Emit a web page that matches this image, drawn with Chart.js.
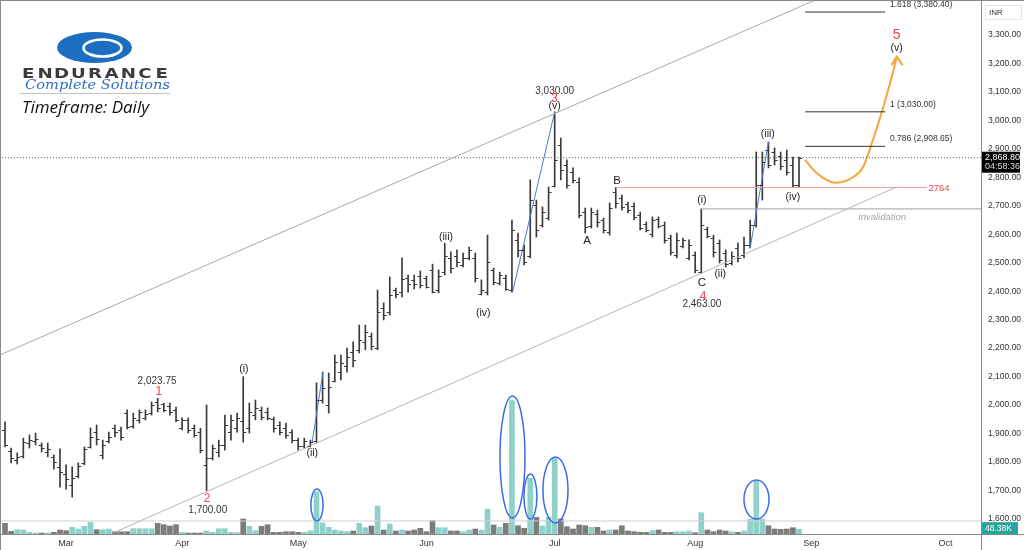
<!DOCTYPE html>
<html>
<head>
<meta charset="utf-8">
<script src="https://cdn.jsdelivr.net/npm/chart.js@4.4.1/dist/chart.umd.min.js"></script>
<style>
  html, body { margin: 0; padding: 0; background: #fff; overflow: hidden; }
  canvas { display: block; }
</style>
</head>
<body>
<canvas id="chart" width="1024" height="550"></canvas>
<script>
// Endurance Technologies, daily bars
const months = ['Mar', 'Apr', 'May', 'Jun', 'Jul', 'Aug', 'Sep', 'Oct'];
const monthStart = [10, 29, 48, 69, 90, 113, 132, 154]; // bar index of first session
const priceTicks = [1600, 1700, 1800, 1900, 2000, 2100, 2200, 2300, 2400, 2500,
                    2600, 2700, 2800, 2900, 3000, 3100, 3200, 3300];

const opens = [1913,1839,1807,1821,1867,1874,1860,1835,1818,1782,
  1758,1719,1751,1797,1853,1906,1825,1874,1919,1912,
  1972,1926,1948,1955,1972,2011,2004,1997,1983,1919,
  1948,1919,1906,1790,1814,1835,1860,1905,1919,1944,
  1919,1965,1983,1976,1951,1930,1919,1905,1877,1856,
  1856,1874,2018,2000,2085,2116,2137,2186,2193,2222,
  2243,2201,2341,2327,2404,2397,2446,2440,2453,2446,
  2475,2404,2467,2517,2524,2492,2517,2517,2390,2397,
  2475,2429,2446,2404,2580,2545,2524,2703,2633,2657,
  2769,2913,2843,2819,2784,2678,2629,2671,2650,2608,
  2748,2727,2706,2699,2668,2636,2601,2653,2633,2587,
  2527,2559,2517,2527,2467,2618,2587,2569,2534,2499,
  2552,2527,2562,2633,2773,2896,2889,2875,2861,2843,
  2773];
const highs = [1941,1849,1832,1884,1895,1902,1867,1867,1825,1846,
  1790,1783,1797,1853,1920,1930,1877,1905,1930,1923,
  1983,1972,1983,1983,2011,2023.75,2007,2007,1993,1955,
  1955,1930,1919,2000,1860,1877,1965,1965,1972,2100,
  2007,2018,1993,1990,1958,1941,1937,1913,1884,1884,
  1877,2078,2116,2113,2176,2176,2200,2222,2281,2281,
  2253,2404,2359,2450,2411,2517,2457,2457,2471,2453,
  2495,2475,2569,2538,2545,2534,2555,2534,2440,2597,
  2481,2467,2457,2650,2604,2562,2791,2720,2696,2766,
  3030,2938,2861,2833,2798,2692,2692,2685,2657,2710,
  2764,2738,2713,2710,2678,2643,2661,2661,2643,2597,
  2604,2587,2580,2538,2689,2625,2597,2580,2545,2538,
  2569,2590,2650,2889,2889,2924,2903,2889,2896,2871,
  2871];
const lows = [1853,1797,1793,1814,1849,1860,1835,1818,1775,1712,
  1705,1677,1744,1790,1849,1860,1811,1867,1888,1877,
  1916,1919,1937,1948,1965,1976,1976,1965,1941,1913,
  1902,1888,1832,1700,1807,1818,1842,1877,1905,1870,
  1902,1948,1948,1948,1905,1895,1884,1867,1842,1849,
  1853,1867,2007,1972,2081,2088,2116,2134,2183,2194,
  2194,2194,2299,2316,2376,2380,2397,2408,2411,2411,
  2394,2394,2457,2464,2485,2485,2510,2432,2387,2387,
  2422,2422,2404,2397,2520,2492,2517,2590,2625,2650,
  2766,2791,2762,2780,2657,2604,2622,2625,2604,2597,
  2692,2685,2675,2650,2615,2608,2590,2622,2569,2527,
  2517,2552,2510,2464,2463,2587,2520,2499,2485,2492,
  2503,2517,2552,2625,2720,2833,2843,2826,2808,2764,
  2764];
const closes = [1860,1814,1818,1870,1877,1881,1849,1846,1800,1765,
  1740,1744,1786,1846,1888,1881,1860,1888,1905,1888,
  1923,1955,1976,1969,2000,1990,1983,1976,1948,1948,
  1913,1895,1842,1814,1849,1860,1930,1948,1955,1905,
  1976,1990,1958,1955,1919,1905,1895,1877,1856,1874,
  1870,2018,2060,2064,2151,2148,2169,2158,2229,2257,
  2208,2327,2316,2387,2390,2443,2425,2425,2422,2415,
  2397,2453,2524,2481,2503,2517,2545,2446,2404,2503,
  2432,2457,2408,2615,2545,2503,2720,2615,2678,2748,
  2861,2826,2773,2791,2668,2625,2678,2643,2615,2692,
  2710,2696,2685,2661,2622,2615,2650,2629,2580,2538,
  2580,2580,2562,2475,2633,2594,2538,2510,2495,2524,
  2517,2562,2633,2773,2854,2843,2861,2840,2819,2773,
  2868.8];
// volume, thousands of shares
const volumes = [107,27,43,40,17,10,10,10,17,40,
  33,67,50,77,117,43,43,50,23,23,
  23,53,53,53,53,107,93,80,93,17,
  10,10,10,30,17,53,53,17,13,150,
  77,33,77,93,17,17,23,23,17,17,
  33,423,110,67,40,30,23,30,107,63,
  80,280,40,100,30,40,30,40,57,23,
  133,63,63,30,30,23,40,50,40,247,
  90,67,107,1333,83,57,557,167,80,167,
  757,150,73,50,90,83,67,67,30,40,
  40,83,30,23,17,17,33,40,17,17,
  23,23,30,13,213,40,23,40,30,23,
  17,30,147,533,147,83,50,47,50,63,
  48.38];

// fibonacci projection
const fibRatios = ['1.618', '1', '0.786'];
const fibPrices = [3380.40, 3030.00, 2908.65];

// wave labels: text, bar index, price, kind
const waveLabels = [
  ['2,023.75', 24.9, 2085, 'price'], ['1', 25.2, 2046, 'red'],
  ['2', 33.1, 1670, 'red'], ['1,700.00', 33.2, 1632, 'price'],
  ['(i)', 39.1, 2127, 'wave'], ['(ii)', 50.3, 1832, 'wave'],
  ['(iii)', 72.2, 2590, 'wave'], ['(iv)', 78.3, 2323, 'wave'],
  ['3,030.00', 90, 3103, 'price'], ['3', 90, 3075, 'red'], ['(v)', 90, 3050, 'wave'],
  ['A', 95.3, 2576, 'abc'], ['B', 100.2, 2787, 'abc'],
  ['(i)', 114.1, 2720, 'wave'], ['C', 114.1, 2429, 'abc'], ['4', 114.3, 2380, 'red'],
  ['2,463.00', 114.1, 2355, 'price'], ['(ii)', 117.1, 2460, 'wave'],
  ['(iii)', 124.9, 2952, 'wave'], ['(iv)', 129.0, 2731, 'wave'],
  ['5', 146.0, 3300, 'red5'], ['(v)', 146.0, 3254, 'wave']
];

// drawn lines (bar index, price)
const upperChannel = [{x: -0.82, y: 2176}, {x: 159.8, y: 3676}];
const lowerChannel = [{x: 17.7, y: 1551}, {x: 146.0, y: 2766}];
const impulseLegs = [
  [{x: 50.3, y: 1870}, {x: 52.06, y: 2116}],
  [{x: 83.1, y: 2397}, {x: 90, y: 3030}],
  [{x: 122, y: 2552}, {x: 125, y: 2924}]
];
const projection = [{x: 131.0, y: 2861}, {x: 132.9, y: 2815}, {x: 135.9, y: 2781},
  {x: 138.3, y: 2794}, {x: 140.5, y: 2836}, {x: 142.1, y: 2931}, {x: 143.8, y: 3047},
  {x: 145.2, y: 3153}, {x: 146.0, y: 3222}];
const volRings = [[51.08, 290, 1.0, 160], [83.09, 770, 2.05, 610], [86.03, 375, 1.06, 225],
  [90.13, 440, 2.05, 330], [123.04, 345, 2.05, 195]];

const F = '"Liberation Sans", Arial, sans-serif';
const BAR = '#3a3a3a';
const lastClose = closes[closes.length - 1];

const fmt = v => v.toLocaleString('en-US', {minimumFractionDigits: 2, maximumFractionDigits: 2});

function seg(points, color, extra) {
  return Object.assign({
    type: 'line', data: points, yAxisID: 'y', borderColor: color, borderWidth: 1,
    pointRadius: 0, fill: false, order: 0
  }, extra || {});
}

const datasets = [
  {
    type: 'bar', label: 'OHLC', yAxisID: 'y', order: 1,
    data: highs.map((h, i) => ({x: i, y: [lows[i], h]})),
    backgroundColor: BAR, barThickness: 1, grouped: false
  },
  {
    type: 'bar', label: 'Volume', yAxisID: 'yv', order: 2,
    data: volumes.map((v, i) => ({x: i, y: v})),
    backgroundColor: volumes.map((v, i) => closes[i] >= opens[i] ? '#8fd1c8' : '#7c7c7c'),
    barThickness: 5, grouped: false
  },
  seg(upperChannel, '#a8a8a8'),
  seg(lowerChannel, '#b4b4b4'),
  seg([{x: 100, y: 2764}, {x: 150.9, y: 2764}], '#f39aa0'),
  seg([{x: 114, y: 2689}, {x: 160, y: 2689}], '#a0a0a0'),
  seg([{x: -1, y: lastClose}, {x: 160, y: lastClose}], '#555', {borderDash: [1, 2]}),
  seg([{x: -1, y: 1593}, {x: 160, y: 1593}], '#cfcfcf'),
  ...fibPrices.map(p => seg([{x: 131.0, y: p}, {x: 144.1, y: p}], '#333')),
  ...impulseLegs.map(l => seg(l, '#4a78dc')),
  seg(projection, '#f6a53a', {borderWidth: 2, tension: 0.4, cubicInterpolationMode: 'monotone'})
];

const drawings = {
  id: 'drawings',
  afterDatasetsDraw(chart) {
    const {ctx, scales: {x, y, yv}} = chart;
    const X = v => x.getPixelForValue(v);
    const Y = v => y.getPixelForValue(v);
    ctx.save();
    ctx.beginPath();
    ctx.rect(0, 0, chart.chartArea.right, chart.chartArea.bottom);
    ctx.clip();

    // open / close ticks
    ctx.strokeStyle = BAR;
    ctx.lineWidth = 1;
    ctx.beginPath();
    for (let i = 0; i < opens.length; i++) {
      const px = X(i);
      const yo = Math.round(Y(opens[i])) + 0.5, yc = Math.round(Y(closes[i])) + 0.5;
      ctx.moveTo(px - 3, yo); ctx.lineTo(px, yo);
      ctx.moveTo(px, yc); ctx.lineTo(px + 3, yc);
    }
    ctx.stroke();

    // rings round the volume spikes
    ctx.strokeStyle = '#3b6be6';
    ctx.lineWidth = 1.5;
    volRings.forEach(([ci, cv, hw, hh]) => {
      ctx.beginPath();
      ctx.ellipse(X(ci), yv.getPixelForValue(cv), X(ci + hw) - X(ci),
        yv.getPixelForValue(cv - hh) - yv.getPixelForValue(cv), 0, 0, Math.PI * 2);
      ctx.stroke();
    });

    // arrow head of the projection
    ctx.strokeStyle = '#f6a53a';
    ctx.lineWidth = 2;
    ctx.beginPath();
    ctx.moveTo(X(145.17), Y(3194)); ctx.lineTo(X(146.0), Y(3224)); ctx.lineTo(X(146.97), Y(3194));
    ctx.stroke();

    // wave labels
    ctx.textAlign = 'center';
    ctx.textBaseline = 'middle';
    const styles = {
      price: ['10px ' + F, '#333'], red: ['12px ' + F, '#f0454f'], red5: ['14px ' + F, '#f0454f'],
      wave: ['10.5px ' + F, '#222'], abc: ['11.5px ' + F, '#222']
    };
    waveLabels.forEach(([t, i, p, k]) => {
      ctx.font = styles[k][0];
      ctx.fillStyle = styles[k][1];
      ctx.fillText(t, X(i), Y(p));
    });

    // fib level labels
    ctx.textAlign = 'left';
    ctx.textBaseline = 'bottom';
    ctx.font = '8.5px ' + F;
    ctx.fillStyle = '#333';
    fibPrices.forEach((p, k) => {
      ctx.fillText(fibRatios[k] + ' (' + fmt(p) + ')', X(144.9), Y(p) - 3);
    });

    ctx.textBaseline = 'middle';
    ctx.font = '9.5px ' + F;
    ctx.fillStyle = '#f0454f';
    ctx.fillText('2764', X(151.2), Y(2764) + 1);
    ctx.textAlign = 'center';
    ctx.font = 'italic 9.5px ' + F;
    ctx.fillStyle = '#a5a5a5';
    ctx.fillText('Invalidation', X(143.6), Y(2689) + 8);
    ctx.restore();
  },
  afterDraw(chart) {
    const {ctx, chartArea: a, scales: {y, yv}} = chart;
    ctx.save();
    // frame and pane separators
    ctx.strokeStyle = '#8a8a8a';
    ctx.lineWidth = 1;
    ctx.beginPath();
    ctx.moveTo(0, 0.5); ctx.lineTo(1024, 0.5);
    ctx.moveTo(0.5, 0); ctx.lineTo(0.5, 550);
    ctx.moveTo(0, a.bottom + 0.5); ctx.lineTo(1024, a.bottom + 0.5);
    ctx.moveTo(a.right + 0.5, 0); ctx.lineTo(a.right + 0.5, 550);
    ctx.stroke();

    // currency tag
    ctx.strokeStyle = '#e2e2e2';
    ctx.strokeRect(985.5, 5.5, 36, 14);
    ctx.fillStyle = '#333';
    ctx.font = '8px ' + F;
    ctx.textAlign = 'left';
    ctx.textBaseline = 'middle';
    ctx.fillText('INR', 989, 12.5);

    // last price tag
    const py = y.getPixelForValue(lastClose);
    ctx.fillStyle = '#000';
    ctx.fillRect(a.right + 1, py - 6, 38, 21);
    ctx.fillStyle = '#fff';
    ctx.font = '9px ' + F;
    ctx.fillText(fmt(lastClose), a.right + 4, py - 0.5);
    ctx.fillStyle = '#ddd';
    ctx.fillText('04:58:36', a.right + 4, py + 9);

    // last volume tag
    const vy = yv.getPixelForValue(volumes[volumes.length - 1]);
    ctx.fillStyle = '#26a69a';
    ctx.fillRect(a.right + 1, vy - 7, 36, 12);
    ctx.fillStyle = '#fff';
    ctx.font = '8.5px ' + F;
    ctx.fillText(volumes[volumes.length - 1].toFixed(2) + 'K', a.right + 4, vy - 0.5);

    // logo
    ctx.fillStyle = '#1b6ec2';
    ctx.beginPath();
    ctx.ellipse(94.5, 47.5, 37.5, 15.5, 0, 0, Math.PI * 2);
    ctx.fill();
    ctx.strokeStyle = '#fff';
    ctx.lineWidth = 2.5;
    ctx.beginPath();
    ctx.ellipse(102.5, 48, 19, 8.5, 0, 0, Math.PI * 2);
    ctx.stroke();

    ctx.fillStyle = '#3b3b3b';
    ctx.font = 'bold 14px "DejaVu Sans", sans-serif';
    ctx.textAlign = 'center';
    ctx.textBaseline = 'alphabetic';
    const word = 'ENDURANCE', step = 150 / word.length;
    for (let k = 0; k < word.length; k++) {
      ctx.save();
      ctx.translate(20 + step * (k + 0.5), 77.5);
      ctx.scale(1.3, 1);
      ctx.fillText(word[k], 0, 0);
      ctx.restore();
    }
    ctx.fillStyle = '#2f6dc0';
    ctx.font = 'italic 13px "DejaVu Serif", serif';
    ctx.textAlign = 'left';
    const sub = 'Complete Solutions';
    const sw = ctx.measureText(sub).width;
    ctx.save();
    ctx.translate(25, 89);
    ctx.scale(145 / sw, 1);
    ctx.fillText(sub, 0, 0);
    ctx.restore();
    ctx.strokeStyle = '#c4c4c4';
    ctx.lineWidth = 1;
    ctx.beginPath();
    ctx.moveTo(20, 93.5); ctx.lineTo(170, 93.5);
    ctx.stroke();

    ctx.fillStyle = '#111';
    ctx.font = 'italic 17px "Open Sans", sans-serif';
    ctx.textBaseline = 'middle';
    ctx.fillText('Timeframe: Daily', 22, 108);
    ctx.restore();
  }
};

new Chart(document.getElementById('chart'), {
  type: 'bar',
  data: {datasets},
  options: {
    responsive: false,
    animation: false,
    devicePixelRatio: 1,
    layout: {padding: 0, autoPadding: false},
    plugins: {legend: {display: false}, tooltip: {enabled: false}},
    scales: {
      x: {
        type: 'linear', min: -0.82, max: 159.8, offset: false,
        grid: {display: false, drawTicks: false}, border: {display: false},
        ticks: {
          autoSkip: false, maxRotation: 0, padding: 4, color: '#333',
          font: {size: 9, family: F},
          callback: v => months[monthStart.indexOf(v)]
        },
        afterBuildTicks: s => { s.ticks = monthStart.map(v => ({value: v})); },
        afterFit: s => { s.height = 16; s.paddingLeft = 0; s.paddingRight = 0; }
      },
      y: {
        position: 'right', min: 1547.3, max: 3422.7,
        grid: {display: false, drawTicks: false}, border: {display: false},
        ticks: {padding: 7, color: '#333', font: {size: 8.5, family: F}, callback: v => fmt(v)},
        afterBuildTicks: s => { s.ticks = priceTicks.map(v => ({value: v})); },
        afterFit: s => { s.width = 43; s.paddingTop = 0; s.paddingBottom = 0; }
      },
      yv: {display: false, min: 0, max: 5340}
    }
  },
  plugins: [drawings]
});
</script>
</body>
</html>
